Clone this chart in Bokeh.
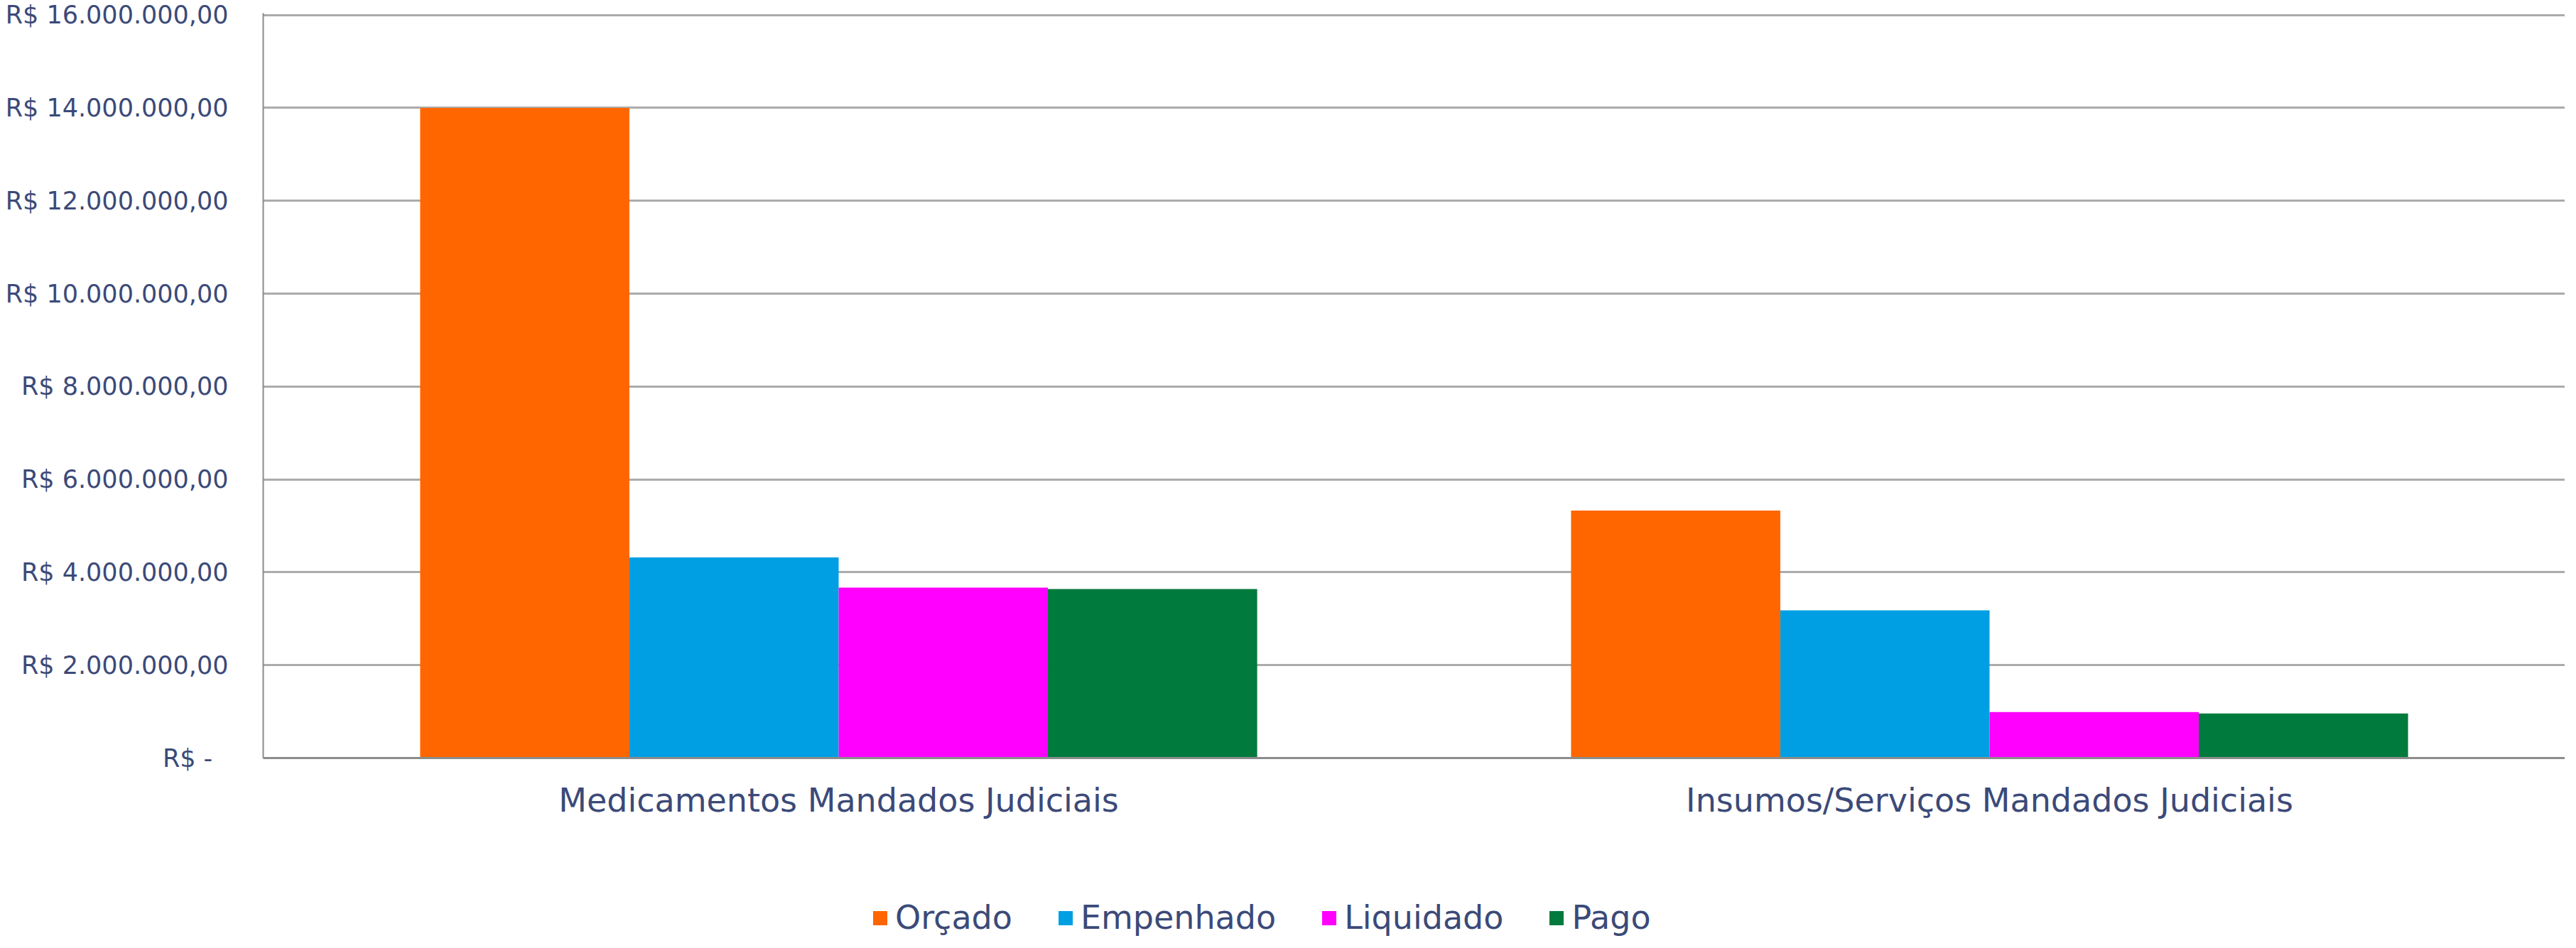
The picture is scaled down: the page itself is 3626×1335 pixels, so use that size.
from bokeh.plotting import figure
from bokeh.models import (ColumnDataSource, FactorRange, Range1d, CustomJSTickFormatter,
                          SingleIntervalTicker, Legend, LegendItem)
from bokeh.layouts import column
from bokeh.transform import dodge
from bokeh.embed import file_html
from bokeh.resources import INLINE

categories = ["Medicamentos Mandados Judiciais", "Insumos/Serviços Mandados Judiciais"]
orcado = [14000000, 5330000]
empenhado = [4320000, 3180000]
liquidado = [3670000, 990000]
pago = [3640000, 960000]

series_names = ["Orçado", "Empenhado", "Liquidado", "Pago"]
series_colors = ["#FF6600", "#009FE3", "#FF00FF", "#007A3D"]

TEXT = "#3B4A78"
FONT = "DejaVu Sans"

src = ColumnDataSource(dict(cat=categories, orcado=orcado, empenhado=empenhado,
                            liquidado=liquidado, pago=pago))
keys = ["orcado", "empenhado", "liquidado", "pago"]
w = 1.0 / 5.5

# main chart
p = figure(width=3610, height=1180, x_range=FactorRange(*categories),
           y_range=Range1d(0, 16040000), output_backend="svg", toolbar_location=None,
           min_border_left=370, min_border_right=0, min_border_top=18, min_border_bottom=113)
p.outline_line_color = None
p.background_fill_color = "white"
p.border_fill_color = "white"

for i, k in enumerate(keys):
    p.vbar(x=dodge("cat", (i - 1.5) * w, range=p.x_range), top=k, width=w,
           source=src, fill_color=series_colors[i], line_color=None)

p.xgrid.grid_line_color = None
p.ygrid.grid_line_color = "#ABABAB"
p.ygrid.grid_line_width = 3
p.yaxis.ticker = SingleIntervalTicker(interval=2000000)
p.yaxis.formatter = CustomJSTickFormatter(code="""
if (tick == 0) return "R$ -\u00a0\u00a0";
var s = Math.round(tick).toString().replace(/\\B(?=(\\d{3})+(?!\\d))/g, ".");
return "R$ " + s + ",00";
""")
for ax in (p.yaxis, p.xaxis):
    ax.major_tick_out = 0
    ax.major_tick_in = 0
    ax.minor_tick_out = 0
    ax.minor_tick_in = 0
    ax.major_label_text_color = TEXT
    ax.major_label_text_font = FONT
    ax.major_label_text_font_style = "normal"
p.yaxis.axis_line_color = "#8C8C8C"
p.yaxis.axis_line_width = 2
p.yaxis.major_label_text_font_size = "35px"
p.yaxis.major_label_standoff = 49
p.xaxis.axis_line_color = "#8C8C8C"
p.xaxis.axis_line_width = 3
p.xaxis.major_label_text_font_size = "46px"
p.xaxis.major_label_standoff = 32

# legend strip (same series, bars kept out of view; only the legend shows)
p2 = figure(width=3610, height=139, output_backend="svg", toolbar_location=None,
            x_axis_type=None, y_axis_type=None,
            x_range=FactorRange(*categories), y_range=Range1d(20000000, 30000000),
            min_border_left=370, min_border_right=0, min_border_top=0, min_border_bottom=0)
p2.outline_line_color = None
p2.grid.grid_line_color = None
p2.background_fill_color = "white"
p2.border_fill_color = "white"
leg_renderers = []
for i, k in enumerate(keys):
    r = p2.vbar(x=dodge("cat", (i - 1.5) * w, range=p2.x_range), top=k, width=w,
                source=src, fill_color=series_colors[i], line_color=None)
    leg_renderers.append(r)
items = [LegendItem(label=series_names[i], renderers=[leg_renderers[i]]) for i in range(4)]
legend = Legend(items=items, orientation="horizontal", location=(856, 0),
                glyph_width=25, glyph_height=25, label_standoff=9, spacing=62,
                padding=0, margin=0, border_line_color=None, background_fill_alpha=0,
                label_text_font=FONT, label_text_font_size="46px", label_text_color=TEXT,
                label_text_line_height=1.0)
p2.add_layout(legend, "center")

layout = column(p, p2, spacing=0)
open("out.html", "w").write(file_html(layout, INLINE))
